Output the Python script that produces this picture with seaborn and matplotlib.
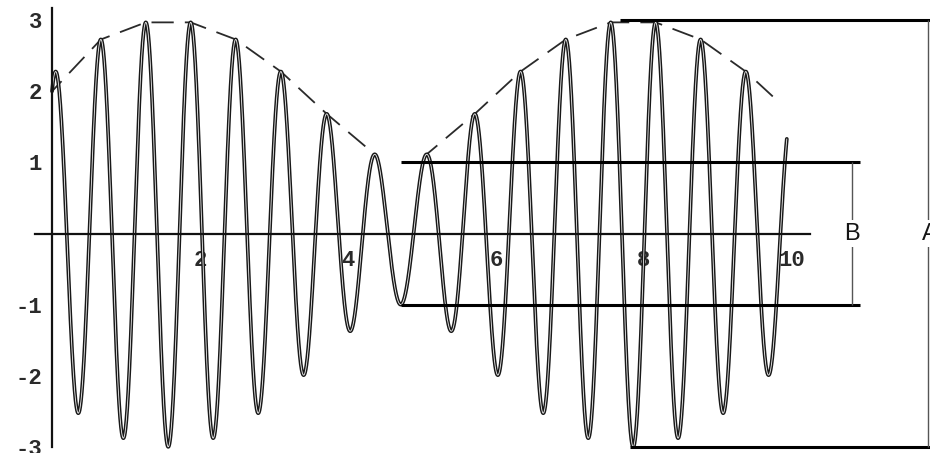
import numpy as np
import pandas as pd
import matplotlib
matplotlib.use("Agg")
import matplotlib.pyplot as plt
import matplotlib.patheffects as pe
from matplotlib.ticker import MultipleLocator, FixedLocator
import seaborn as sns

# Beat signal: y(t) = a0*cos(w0*t) + a1*sin(w1*t)
amplitudes = [2.0, 1.0]
omegas = [10.0, 11.0]
t_range = [0.0, 9.93]

# Axis ticks
x_ticks = [2, 4, 6, 8, 10]
x_tick_labels = ["2", "4", "6", "8", "10"]
y_ticks = [-3, -2, -1, 1, 2, 3]
y_tick_labels = ["-3", "-2", "-1", "1", "2", "3"]

# Bracket levels: A spans the full swing, B the smallest swing
level_A = 3.0
level_B = 1.0
bracket_labels = ["A", "B"]

sns.set_theme(style="white")
plt.rcParams["font.family"] = ["Liberation Mono", "DejaVu Sans"]
plt.rcParams["lines.scale_dashes"] = False


def beat(tt):
    return amplitudes[0] * np.cos(omegas[0] * tt) + amplitudes[1] * np.sin(omegas[1] * tt)


t = np.linspace(t_range[0], t_range[1], 6000)
signal = pd.DataFrame({"t": t, "y": beat(t)})

# local maxima of the signal, joined into an upper envelope in two arcs
t_ext = np.linspace(t_range[0], 10.1, 8000)
y_ext = beat(t_ext)
is_peak = (y_ext[1:-1] > y_ext[:-2]) & (y_ext[1:-1] >= y_ext[2:])
peak_t = t_ext[1:-1][is_peak]
peak_y = y_ext[1:-1][is_peak]
keep = peak_t > 0.3
env_t = np.concatenate([[t_ext[0]], peak_t[keep]])
env_y = np.concatenate([[y_ext[0]], peak_y[keep]])
env_end = 9.74
mask = env_t < env_end
env_t = np.append(env_t[mask], env_end)
env_y = np.append(env_y[mask], np.interp(env_end, peak_t, peak_y))
env_arc = np.where(env_t < 3 * np.pi / 2, 0, 1)
envelope = pd.DataFrame({"t": env_t, "y": env_y, "arc": env_arc})

fig = plt.figure(figsize=(9.30, 4.53), dpi=100)
ax = fig.add_axes([0, 0, 1, 1])
ax.set_xlim(-0.703, 11.865)
ax.set_ylim(-3.087, 3.284)

# upper envelope (dashed)
sns.lineplot(data=envelope, x="t", y="y", units="arc", ax=ax, color="#2a2a2a",
             linewidth=1.3, estimator=None, sort=False)
for ln in ax.get_lines():
    ln.set_linestyle((6, (16, 8)))

# signal drawn as an outlined stroke
sns.lineplot(data=signal, x="t", y="y", ax=ax, color="#f0f0f0", linewidth=0.6,
             estimator=None, sort=False,
             path_effects=[pe.Stroke(linewidth=2.7, foreground="#181818"), pe.Normal()])

# bracket B: lines at +/- level_B
xb0, xb1, xb_v = 4.71, 10.92, 10.81
ax.hlines([level_B, -level_B], xb0, xb1, color="black", linewidth=2.2)
ax.vlines(xb_v, -level_B, level_B, color="#555555", linewidth=1.0)
ax.text(xb_v, 0.0, bracket_labels[1], family=["Liberation Sans"], fontsize=17,
        ha="center", va="center", color="#151515",
        bbox=dict(facecolor="white", edgecolor="none", pad=1.5))

# bracket A: lines at +/- level_A
ax.hlines(level_A, 7.68, 11.9, color="black", linewidth=2.2)
ax.hlines(-level_A, 7.81, 11.9, color="black", linewidth=2.2)
ax.vlines(11.84, -level_A, level_A, color="#555555", linewidth=1.0)
ax.text(11.86, 0.0, bracket_labels[0], family=["Liberation Sans"], fontsize=17,
        ha="center", va="center", color="#151515",
        bbox=dict(facecolor="white", edgecolor="none", pad=1.5))

# axes crossing at the origin
for side in ["top", "right"]:
    ax.spines[side].set_visible(False)
ax.spines["left"].set_position(("data", 0))
ax.spines["bottom"].set_position(("data", 0))
ax.spines["left"].set_bounds(-3.0, 3.17)
ax.spines["bottom"].set_bounds(-0.23, 10.25)
for side in ["left", "bottom"]:
    ax.spines[side].set_color("#111111")
    ax.spines[side].set_linewidth(1.6)

ax.xaxis.set_major_locator(FixedLocator(x_ticks))
ax.set_xticklabels(x_tick_labels, fontweight="bold")
ax.xaxis.set_minor_locator(MultipleLocator(0.5))
ax.yaxis.set_major_locator(FixedLocator(y_ticks))
ax.set_yticklabels(y_tick_labels, fontweight="bold")
ax.yaxis.set_minor_locator(MultipleLocator(0.2))

ax.tick_params(axis="both", which="both", direction="in", color="#111111")
ax.tick_params(axis="x", which="major", length=3.5, width=1.2, pad=12, labelsize=16, labelcolor="#2a2a2a")
ax.tick_params(axis="x", which="minor", length=2.0, width=1.2)
ax.tick_params(axis="y", which="major", length=5.0, width=1.2, pad=7, labelsize=16, labelcolor="#2a2a2a")
ax.tick_params(axis="y", which="minor", length=2.5, width=1.0)
ax.set_xlabel("")
ax.set_ylabel("")
ax.set_facecolor("white")
ax.grid(False)

fig.savefig("out.png", dpi=100, facecolor="white")
